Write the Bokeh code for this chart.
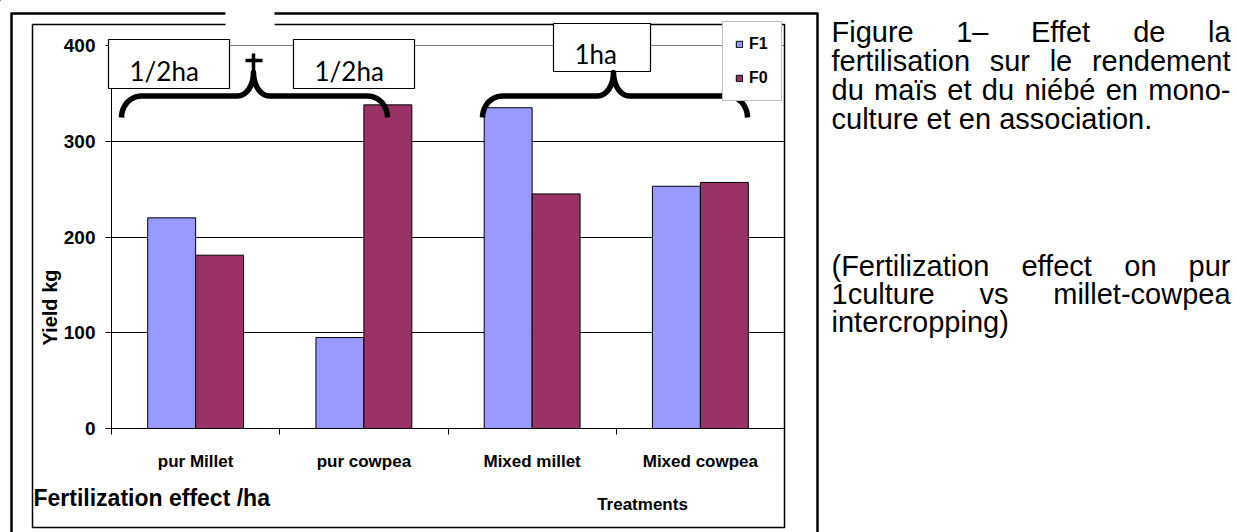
import numpy as np
from bokeh.plotting import figure
from bokeh.models import (ColumnDataSource, Range1d, FixedTicker, Legend, LegendItem)
from bokeh.core.properties import value
from bokeh.transform import dodge
from bokeh.embed import file_html
from bokeh.resources import INLINE

# ---------------- data ----------------
categories = ["pur Millet", "pur cowpea", "Mixed millet", "Mixed cowpea"]
f1_values = [220, 95, 335, 253]
f0_values = [181, 338, 245, 257]
series_names = ["F1", "F0"]
series_colors = ["#9999FF", "#993366"]
y_ticks = [0, 100, 200, 300, 400]
y_title = "Yield kg"
x_title = "Treatments"
note_title = "Fertilization effect /ha"
box_labels = ["1/2ha", "1/2ha", "1ha"]
caption_fr = ["Figure 1– Effet de la", "fertilisation sur le rendement",
              "du maïs et du niébé en mono-", "culture et en association."]
caption_en = ["(Fertilization effect on pur", "1culture vs millet-cowpea", "intercropping)"]

# ---------------- layout (canvas pixels) ----------------
W, H = 1236, 532
FRAME_L, FRAME_R, FRAME_T, FRAME_B = 111, 784, 45, 428
FONT = "Liberation Sans"

# ================= chart figure =================
xc = [i + 0.5 for i in range(len(categories))]
source = ColumnDataSource(dict(xc=xc, cat=categories, F1=f1_values, F0=f0_values))

p = figure(frame_width=FRAME_R - FRAME_L, frame_height=FRAME_B - FRAME_T,
           min_border_left=FRAME_L, min_border_right=W - FRAME_R,
           min_border_top=FRAME_T, min_border_bottom=H - FRAME_B,
           x_range=Range1d(0, len(categories)), y_range=Range1d(y_ticks[0], y_ticks[-1]),
           output_backend="svg", toolbar_location=None)
p.background_fill_color = "white"
p.border_fill_color = "white"
p.outline_line_color = "#808080"
p.outline_line_width = 1

bw = 0.285
r1 = p.vbar(x=dodge("xc", -bw / 2), top="F1", width=bw, source=source,
            fill_color=series_colors[0], line_color="black", line_width=1)
r0 = p.vbar(x=dodge("xc", bw / 2), top="F0", width=bw, source=source,
            fill_color=series_colors[1], line_color="black", line_width=1)

xa = p.xaxis[0]
xa.ticker = FixedTicker(ticks=xc, minor_ticks=list(range(len(categories) + 1)))
xa.major_label_overrides = {float(x): c for x, c in zip(xc, categories)}
xa.major_tick_line_color = None
xa.major_tick_in = 0
xa.major_tick_out = 0
xa.minor_tick_in = 0
xa.minor_tick_out = 6
xa.minor_tick_line_color = "black"
xa.axis_line_color = "black"
xa.major_label_standoff = 17
xa.major_label_text_font = FONT
xa.major_label_text_font_style = "bold"
xa.major_label_text_font_size = "17px"
xa.major_label_text_color = "black"

ya = p.yaxis[0]
ya.ticker = FixedTicker(ticks=y_ticks, minor_ticks=[])
ya.major_tick_in = 0
ya.major_tick_out = 6
ya.major_tick_line_color = "black"
ya.minor_tick_line_color = None
ya.axis_line_color = "black"
ya.major_label_standoff = 10
ya.major_label_text_font = FONT
ya.major_label_text_font_style = "bold"
ya.major_label_text_font_size = "19px"
ya.major_label_text_color = "black"

p.xgrid.visible = False
p.ygrid.ticker = FixedTicker(ticks=y_ticks[1:-1])
p.ygrid.grid_line_color = "black"
p.ygrid.grid_line_width = 1

# ================= overlay figure (page decorations, in canvas pixels) =================
q = figure(frame_width=W, frame_height=H, x_range=Range1d(0, W), y_range=Range1d(H, 0),
           min_border=0, x_axis_location=None, y_axis_location=None,
           output_backend="svg", toolbar_location=None)
q.background_fill_alpha = 0
q.border_fill_alpha = 0
q.outline_line_color = None
q.grid.visible = False
q.margin = (-H, 0, 0, 0)


def pline(xs, ys, width=2, color="black"):
    q.line(x=list(xs), y=list(ys), line_width=width, line_color=color,
           line_join="round", line_cap="butt")


def box(l, t, r, b, fill="white", line="black", width=1.2):
    q.quad(left=[l], right=[r], top=[t], bottom=[b], fill_color=fill,
           line_color=line, line_width=width)


def txt(x, y, s, size, style="normal", align="left", font=FONT, angle=0):
    q.text(x=[x], y=[y], text=[s], text_font=value(font), text_font_size=f"{size}px",
           text_font_style=style, text_align=align, text_baseline="middle",
           text_color="black", angle=angle)


# frames
pline([11, 11, 817, 817], [560, 13, 13, 560], width=2.5)
pline([32, 784, 784, 32, 32], [24, 24, 527, 527, 24], width=1.5)
box(225, 0, 274, 28, fill="white", line=None)

# legend (off-canvas carrier renderers hold the series styles)
d1 = q.vbar(x=[-50], bottom=[-50], top=[-49], width=1,
            fill_color=series_colors[0], line_color="black")
d0 = q.vbar(x=[-50], bottom=[-50], top=[-49], width=1,
            fill_color=series_colors[1], line_color="black")
legend = Legend(items=[LegendItem(label=series_names[0], renderers=[d1]),
                       LegendItem(label=series_names[1], renderers=[d0])],
                location=(722, H - 101), orientation="vertical",
                border_line_color="#808080", border_line_width=1,
                background_fill_color="white", background_fill_alpha=1,
                label_text_font=FONT, label_text_font_style="bold",
                label_text_font_size="16px", label_text_color="black",
                glyph_width=8, glyph_height=8,
                label_standoff=6, padding=12, spacing=14, label_height=20, margin=0)
q.add_layout(legend)

# annotation boxes
boxes = [(108, 39, 229, 88), (293, 39, 414, 88), (553, 23, 650, 71)]
for (l, t, r, b), s in zip(boxes, box_labels):
    box(l, t, r, b)
    txt(l + 21, b - 18, s, 26, font="Lato")


def brace(x0, xm, x1, y_end=117, y_h=95.5, y_tip=72, r_end=20, r_mid=16):
    t = np.linspace(0, np.pi / 2, 14)
    t2 = t[::-1]
    xs, ys = [], []
    xs += list(x0 + r_end * (1 - np.cos(t))); ys += list(y_h + (y_end - y_h) * (1 - np.sin(t)))
    xs += list(xm - r_mid + r_mid * np.sin(t)); ys += list(y_tip + (y_h - y_tip) * np.cos(t))
    xs += list(xm + r_mid - r_mid * np.sin(t2)); ys += list(y_tip + (y_h - y_tip) * np.cos(t2))
    xs += list(x1 - r_end * (1 - np.cos(t2))); ys += list(y_h + (y_end - y_h) * (1 - np.sin(t2)))
    pline(xs, ys, width=5.5)


brace(121, 253, 387)
brace(482, 613, 747)
pline([253, 253], [53, 74], width=3.5)
pline([245, 262], [60, 60], width=3.5)

# chart texts
txt(49, 307, y_title, 20, style="bold", align="center", angle=np.pi / 2)
txt(33, 497, note_title, 23, style="bold")
txt(642, 504, x_title, 17, style="bold", align="center")

# caption column (justified with Arial/Liberation metrics)
AW = {' ': 278, '(': 333, ')': 333, '-': 333, '.': 278, '1': 556, '–': 556, 'E': 667,
      'F': 611, 'a': 556, 'b': 556, 'c': 500, 'd': 556, 'e': 556, 'é': 556, 'f': 278,
      'g': 556, 'i': 222, 'ï': 278, 'k': 500, 'l': 222, 'm': 833, 'n': 556, 'o': 556,
      'p': 556, 'r': 333, 's': 500, 't': 278, 'u': 556, 'v': 500, 'w': 722, 'y': 500,
      'z': 500}
CAP_SIZE = 29
X_LEFT, X_RIGHT = 831, 1230


def tw(s):
    return sum(AW.get(c, 556) for c in s) / 1000 * CAP_SIZE


def paragraph(lines, centers):
    for k, (line, yc) in enumerate(zip(lines, centers)):
        words = line.split(" ")
        if k == len(lines) - 1 or len(words) == 1:
            txt(X_LEFT, yc, line, CAP_SIZE)
            continue
        gap = (X_RIGHT - X_LEFT - sum(tw(w) for w in words)) / (len(words) - 1)
        x = X_LEFT
        for w in words:
            txt(x, yc, w, CAP_SIZE)
            x += tw(w) + gap


paragraph(caption_fr, [31, 60, 89, 118])
paragraph(caption_en, [265, 293, 321])

open("out.html", "w").write(file_html([p, q], INLINE))
